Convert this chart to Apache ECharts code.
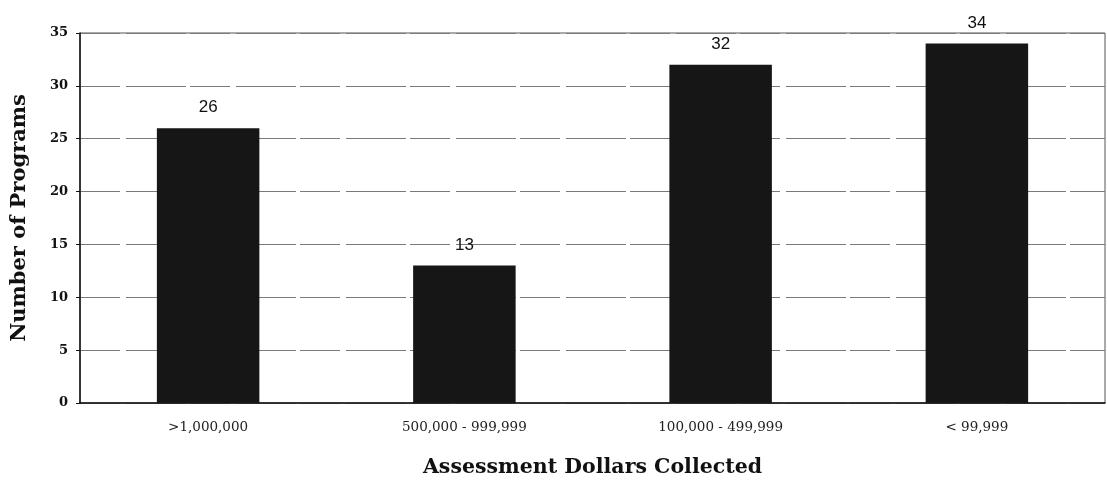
<!DOCTYPE html>
<html>
<head>
<meta charset="utf-8">
<script src="https://cdn.jsdelivr.net/npm/echarts@6/dist/echarts.min.js"></script>
<style>
  html, body { margin: 0; padding: 0; background: #fff; }
  #chart { width: 1107px; height: 480px; }
</style>
</head>
<body>
<div id="chart"></div>
<script>
// Programs grouped by assessment dollars collected
const categories = ['>1,000,000', '500,000 - 999,999', '100,000 - 499,999', '< 99,999'];
const programCounts = [26, 13, 32, 34];
const yTicks = { min: 0, max: 35, interval: 5 };

const chart = echarts.init(document.getElementById('chart'), null, { renderer: 'canvas' });

chart.setOption({
  animation: false,
  backgroundColor: '#ffffff',
  grid: {
    left: 80, right: 2, top: 33, bottom: 77,
    containLabel: false,
    outerBoundsMode: 'none',
    show: true, borderColor: '#555', borderWidth: 1, backgroundColor: 'transparent'
  },
  xAxis: {
    type: 'category',
    data: categories,
    name: 'Assessment Dollars Collected',
    nameLocation: 'middle',
    nameGap: 54,
    nameTextStyle: { fontFamily: 'DejaVu Serif', fontWeight: 'bold', fontSize: 20.5, color: '#111' },
    axisLine: { show: true, lineStyle: { color: '#111', width: 1.5 } },
    axisTick: { show: false },
    axisLabel: { fontFamily: 'DejaVu Serif', fontSize: 13.5, color: '#222', margin: 17 }
  },
  yAxis: {
    type: 'value',
    min: yTicks.min, max: yTicks.max, interval: yTicks.interval,
    name: 'Number of Programs',
    nameLocation: 'middle',
    nameGap: 50,
    nameRotate: 90,
    nameTextStyle: { fontFamily: 'DejaVu Serif', fontWeight: 'bold', fontSize: 21, color: '#111' },
    axisLine: { show: true, lineStyle: { color: '#111', width: 1.5 } },
    axisTick: { show: true, length: 4, lineStyle: { color: '#111' } },
    axisLabel: { fontFamily: 'DejaVu Serif', fontWeight: 'bold', fontSize: 13, color: '#111', margin: 12 },
    splitLine: { show: true, lineStyle: { color: '#7a7a7a', width: 1.2, type: [40, 6, 60, 4] } }
  },
  series: [{
    type: 'bar',
    data: programCounts,
    barWidth: '40%',
    itemStyle: { color: '#161616' },
    label: {
      show: true,
      position: 'top',
      distance: 12,
      fontFamily: 'Liberation Sans',
      fontSize: 17,
      color: '#111'
    }
  }]
});
</script>
</body>
</html>
